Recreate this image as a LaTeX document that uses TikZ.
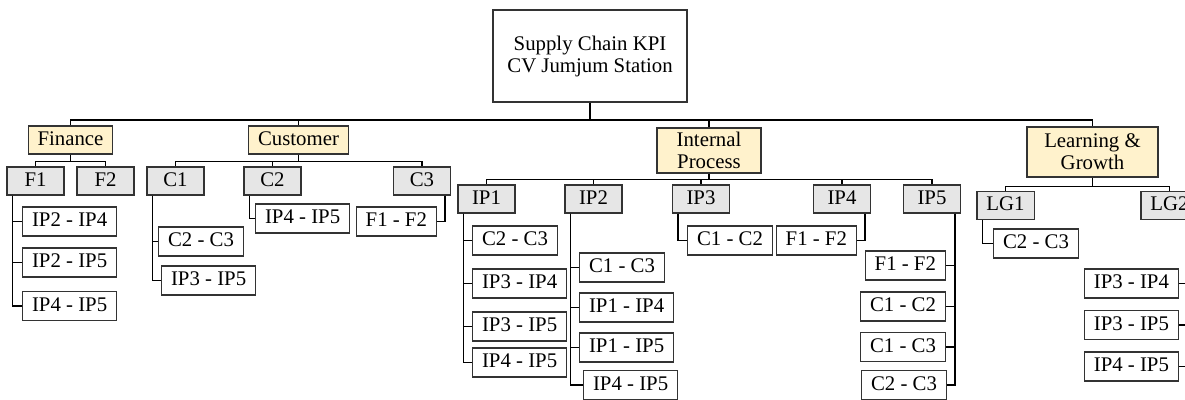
\documentclass[tikz,border=0pt]{standalone}
\usepackage{fontspec}
\setmainfont{Liberation Serif}
\usepackage{xcolor}
\usepackage{tikz}

\definecolor{catfill}{RGB}{255,242,204}
\definecolor{kpifill}{RGB}{230,230,230}

\begin{document}
\begin{tikzpicture}[x=1pt, y=-1pt, font=\fontsize{20.8}{22}\selectfont,
    box/.style={draw=black!80, line width=1.1pt, inner xsep=9.5pt, inner ysep=0pt,
                text height=14pt, text depth=4pt, minimum height=29pt},
    cat/.style={box, fill=catfill, minimum height=28pt, align=center},
    kpi/.style={box, fill=kpifill, minimum width=57pt, minimum height=28pt},
    rel/.style={box, fill=white},
    link/.style={black, line width=1.3pt}]
    \clip (0,0) rectangle (1185,399);
    \fill[white] (0,0) rectangle (1185,399);

    % top and perspectives
    \node[draw=black!80, line width=1.1pt, fill=white, minimum width=194pt, minimum height=92pt, align=center]
        (root) at (590,56) {Supply Chain KPI\\CV Jumjum Station};
    \node[cat] (fin) at (70.5,140) {Finance};
    \node[cat] (cus) at (298.5,140) {Customer};
    \node[cat, minimum width=104pt, minimum height=45pt, text height=, text depth=] (ipc) at (709,150.5) {Internal\\Process};
    \node[cat, minimum width=131pt, minimum height=50pt, text height=, text depth=] (lgc) at (1092.5,152) {Learning \&\\Growth};

    \coordinate (rj) at (590,120);
    \draw[link] (root.south) -- (rj);
    \foreach \c in {fin,cus,ipc,lgc}
        \draw[link] (rj) -| (\c.north);

    % kpi boxes
    \foreach \n/\x/\t in {f1/35.5/F1, f2/105.5/F2, c1/175.5/C1, c2/272.5/C2, c3/422/C3}
        \node[kpi] (\n) at (\x,181) {\t};
    \foreach \n/\x/\t in {ip1/486.5/IP1, ip2/593.5/IP2, ip3/701/IP3, ip4/842/IP4, ip5/932/IP5}
        \node[kpi] (\n) at (\x,199) {\t};
    \node[kpi] (lg1) at (1005.5,205.5) {LG1};
    \node[kpi] (lg2) at (1169.5,205.5) {LG2};

    \draw[link] (fin.south) -- ++(0,7) coordinate (fj);
    \foreach \c in {f1,f2} \draw[link] (fj) -| (\c.north);
    \draw[link] (cus.south) -- ++(0,7) coordinate (cj);
    \foreach \c in {c1,c2,c3} \draw[link] (cj) -| (\c.north);
    \draw[link] (ipc.south) -- ++(0,6) coordinate (ij);
    \foreach \c in {ip1,ip2,ip3,ip4,ip5} \draw[link] (ij) -| (\c.north);
    \draw[link] (lgc.south) -- ++(0,9) coordinate (lj);
    \foreach \c in {lg1,lg2} \draw[link] (lj) -| (\c.north);

    % relations hanging on the left side
    \foreach \i/\y/\t in {1/221.5/IP2 - IP4, 2/262.5/IP2 - IP5, 3/306/IP4 - IP5}
        \node[rel, anchor=west] (f1-\i) at (22,\y) {\t};
    \node[rel, anchor=west] (c1-1) at (158,241.5) {C2 - C3};
    \node[rel, anchor=west] (c1-2) at (161,280.5) {IP3 - IP5};
    \node[rel, anchor=west] (c2-1) at (255,218.5) {IP4 - IP5};
    \foreach \i/\y/\t in {1/240.5/C2 - C3, 2/283.5/IP3 - IP4, 3/326.5/IP3 - IP5, 4/362.5/IP4 - IP5}
        \node[rel, anchor=west] (ip1-\i) at (472,\y) {\t};
    \foreach \i/\y/\t in {1/267.5/C1 - C3, 2/307.5/IP1 - IP4, 3/347.5/IP1 - IP5}
        \node[rel, anchor=west] (ip2-\i) at (579,\y) {\t};
    \node[rel, anchor=west] (ip2-4) at (583,385) {IP4 - IP5};
    \node[rel, anchor=west] (ip3-1) at (687,240.5) {C1 - C2};
    \node[rel, anchor=west] (lg1-1) at (993,243.5) {C2 - C3};

    \foreach \p/\k in {f1/1,f1/2,f1/3,c1/1,c1/2,c2/1,ip1/1,ip1/2,ip1/3,ip1/4,ip2/1,ip2/2,ip2/3,ip2/4,ip3/1,lg1/1}
        \draw[link] ([xshift=6pt]\p.south west) |- (\p-\k.west);

    % relations hanging on the right side
    \node[rel, anchor=east] (c3-1) at (437,221.5) {F1 - F2};
    \node[rel, anchor=east] (ip4-1) at (857,240.5) {F1 - F2};
    \foreach \i/\y/\t in {1/265.5/F1 - F2, 2/306.5/C1 - C2, 3/347/C1 - C3}
        \node[rel, anchor=east] (ip5-\i) at (946,\y) {\t};
    \node[rel, anchor=east] (ip5-4) at (947,385) {C2 - C3};
    \foreach \i/\y/\t in {1/283.5/IP3 - IP4, 2/325/IP3 - IP5, 3/366.5/IP4 - IP5}
        \node[rel, anchor=east] (lg2-\i) at (1179,\y) {\t};

    \foreach \p/\k in {c3/1,ip4/1,ip5/1,ip5/2,ip5/3,ip5/4,lg2/1,lg2/2,lg2/3}
        \draw[link] ([xshift=-6pt]\p.south east) |- (\p-\k.east);
\end{tikzpicture}
\end{document}
